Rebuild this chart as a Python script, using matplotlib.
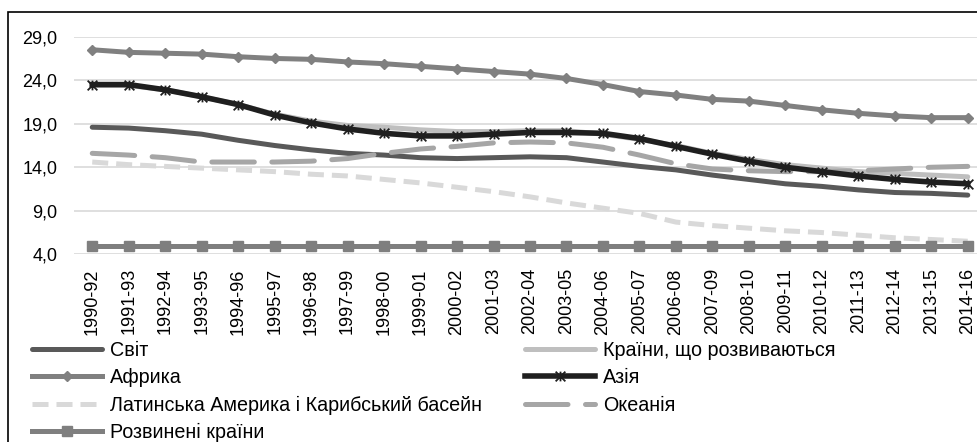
import matplotlib
matplotlib.use("Agg")
import matplotlib.pyplot as plt
from matplotlib.path import Path
from matplotlib.patches import Rectangle

plt.rcParams['font.family'] = ['Liberation Sans', 'DejaVu Sans']

# ---------- data ----------
periods = ["1990-92", "1991-93", "1992-94", "1993-95", "1994-96", "1995-97", "1996-98",
           "1997-99", "1998-00", "1999-01", "2000-02", "2001-03", "2002-04", "2003-05",
           "2004-06", "2005-07", "2006-08", "2007-09", "2008-10", "2009-11", "2010-12",
           "2011-13", "2012-14", "2013-15", "2014-16"]

world = [18.6, 18.5, 18.2, 17.8, 17.1, 16.5, 16.0, 15.6, 15.4, 15.1, 15.0, 15.1, 15.2,
         15.1, 14.6, 14.1, 13.7, 13.1, 12.6, 12.1, 11.8, 11.4, 11.1, 11.0, 10.8]
developing = [23.4, 23.4, 22.9, 22.1, 21.2, 20.1, 19.3, 18.8, 18.6, 18.3, 18.1, 18.1, 18.2,
              18.2, 17.8, 17.2, 16.5, 15.6, 14.9, 14.3, 13.9, 13.5, 13.3, 13.1, 12.9]
africa = [27.5, 27.2, 27.1, 27.0, 26.7, 26.5, 26.4, 26.1, 25.9, 25.6, 25.3, 25.0, 24.7,
          24.2, 23.5, 22.7, 22.3, 21.8, 21.6, 21.1, 20.6, 20.2, 19.9, 19.7, 19.7]
asia = [23.5, 23.5, 22.9, 22.1, 21.2, 20.0, 19.1, 18.4, 17.9, 17.6, 17.6, 17.8, 18.0,
        18.0, 17.9, 17.3, 16.4, 15.5, 14.7, 14.0, 13.5, 13.0, 12.6, 12.3, 12.1]
latam = [14.6, 14.3, 14.1, 13.9, 13.7, 13.5, 13.2, 13.0, 12.6, 12.2, 11.7, 11.2, 10.6,
         9.9, 9.3, 8.7, 7.7, 7.3, 7.0, 6.7, 6.5, 6.2, 5.9, 5.7, 5.5]
oceania = [15.6, 15.4, 15.1, 14.6, 14.6, 14.6, 14.7, 15.0, 15.6, 16.1, 16.4, 16.8, 16.9,
           16.8, 16.3, 15.4, 14.4, 13.8, 13.6, 13.5, 13.5, 13.6, 13.8, 14.0, 14.1]
developed = [5.0] * 25

x = list(range(len(periods)))

# Excel-like star marker (X with vertical bar)
star = Path([(0, -1), (0, 1), (-1, -1), (1, 1), (-1, 1), (1, -1)],
            [Path.MOVETO, Path.LINETO, Path.MOVETO, Path.LINETO, Path.MOVETO, Path.LINETO])

fig = plt.figure(figsize=(9.78, 4.42), dpi=100)
W, H = 978, 442
ax = fig.add_axes([74 / W, (H - 254.3) / H, (986 - 74) / W, (254.3 - 36.7) / H])

lw = 3.6
h_world, = ax.plot(x, world, color="#595959", lw=lw, solid_capstyle="round", label="Світ")
h_dev, = ax.plot(x, developing, color="#BFBFBF", lw=lw, solid_capstyle="round",
                 label="Країни, що розвиваються")
h_afr, = ax.plot(x, africa, color="#808080", lw=lw, marker="D", ms=5.5,
                 mfc="#808080", mec="#808080", label="Африка")
h_lat, = ax.plot(x, latam, color="#D9D9D9", lw=lw, dashes=(3.2, 1.6),
                 label="Латинська Америка і Карибський басейн")
h_oce, = ax.plot(x, oceania, color="#A6A6A6", lw=lw, dashes=(8.5, 3.5),
                 dash_capstyle="round", label="Океанія")
h_asia, = ax.plot(x, asia, color="#1F1F1F", lw=lw + 0.4, marker=star, ms=7,
                  mec="#1F1F1F", mew=1.3, label="Азія")
h_devd, = ax.plot(x, developed, color="#7F7F7F", lw=lw, marker="s", ms=7,
                  mfc="#7F7F7F", mec="#7F7F7F", label="Розвинені країни")

ax.set_xlim(-0.5, len(periods) - 0.5)
ax.set_ylim(4, 29)
ax.set_yticks([4, 9, 14, 19, 24, 29])
ax.set_yticklabels(["4,0", "9,0", "14,0", "19,0", "24,0", "29,0"], fontsize=13)
ax.set_xticks(x)
ax.set_xticklabels(periods, rotation=90, fontsize=13)
ax.tick_params(axis="both", length=0, colors="black")
ax.tick_params(axis="y", pad=12)
ax.tick_params(axis="x", pad=10)
ax.grid(axis="y", color="#D9D9D9", lw=1.2)
ax.set_axisbelow(True)
for s in ax.spines.values():
    s.set_visible(False)

handles = [h_world, h_afr, h_lat, h_devd, h_dev, h_asia, h_oce]
fig.legend(handles=handles, labels=[h.get_label() for h in handles], ncol=2,
           loc="upper left", bbox_to_anchor=(32 / W, 1 - 341 / H), frameon=False,
           fontsize=14.2, handlelength=3.55, handletextpad=0.4, columnspacing=2.2,
           labelspacing=0.42, borderpad=0, borderaxespad=0)

# outer chart border
fig.patches.append(Rectangle((8 / W, -0.1), 1.2, 1.1 - 12 / H, transform=fig.transFigure,
                             fill=False, ec="black", lw=1.2))

fig.savefig("out.png", dpi=100)
